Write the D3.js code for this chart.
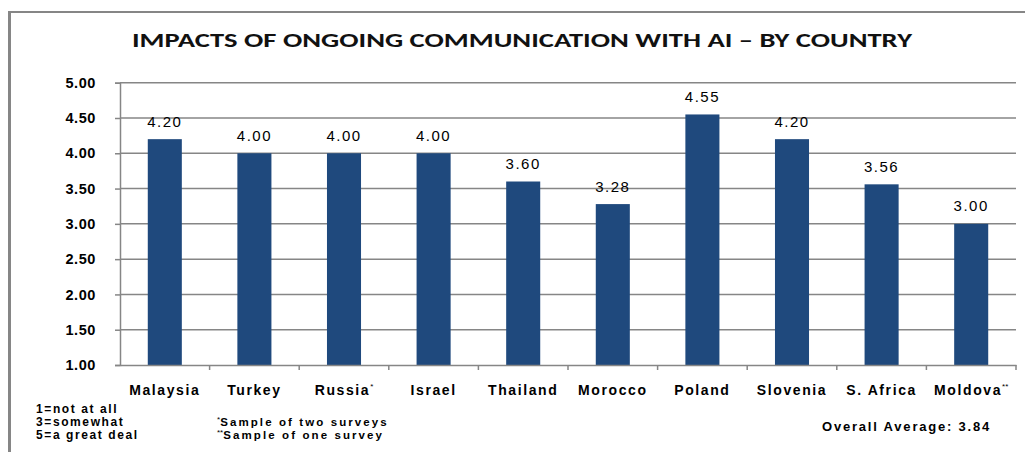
<!DOCTYPE html>
<html>
<head>
<meta charset="utf-8">
<script src="https://cdn.jsdelivr.net/npm/d3@7/dist/d3.min.js"></script>
<style>
  html, body { margin: 0; padding: 0; background: #fff; }
  svg { display: block; }
</style>
</head>
<body>
<svg id="chart" width="1025" height="459"></svg>
<script>
const categories = ["Malaysia", "Turkey", "Russia", "Israel", "Thailand", "Morocco", "Poland", "Slovenia", "S. Africa", "Moldova"];
const categoryMarks = ["", "", "*", "", "", "", "", "", "", "**"];
const values = [4.20, 4.00, 4.00, 4.00, 3.60, 3.28, 4.55, 4.20, 3.56, 3.00];
const yTicks = [1.00, 1.50, 2.00, 2.50, 3.00, 3.50, 4.00, 4.50, 5.00];
const titleText = "IMPACTS OF ONGOING COMMUNICATION WITH AI \u2013 BY COUNTRY";
const scaleNotes = ["1=not at all", "3=somewhat", "5=a great deal"];
const sampleNotes = [["*", "Sample of two surveys"], ["**", "Sample of one survey"]];
const averageNote = "Overall Average: 3.84";

const svg = d3.select("#chart");
const font = "'Liberation Sans', Arial, sans-serif";
const grey = "#868686";

// Frame (top and left)
svg.append("line").attr("x1", 9).attr("x2", 1025).attr("y1", 12).attr("y2", 12)
  .attr("stroke", grey).attr("stroke-width", 2);
svg.append("line").attr("x1", 9.5).attr("x2", 9.5).attr("y1", 11).attr("y2", 452)
  .attr("stroke", grey).attr("stroke-width", 3);

// Title
svg.append("text")
  .attr("x", 132).attr("y", 47)
  .attr("textLength", 780).attr("lengthAdjust", "spacingAndGlyphs")
  .attr("font-family", "Carlito, 'Liberation Sans Narrow', 'Open Sans', sans-serif")
  .attr("font-size", 21).attr("font-weight", 600).attr("fill", "#111")
  .text(titleText);

const x = d3.scaleBand().domain(categories).range([120, 1016]).paddingInner(0.62).paddingOuter(0.31);
const y = d3.scaleLinear().domain([1, 5]).range([365, 82.7]);

// Gridlines
svg.append("g").selectAll("line").data(yTicks.filter(t => t > 1)).join("line")
  .attr("x1", 120).attr("x2", 1016)
  .attr("y1", d => y(d)).attr("y2", d => y(d))
  .attr("stroke", grey).attr("stroke-width", 1.5);

// Y axis
const yAxis = svg.append("g").attr("transform", "translate(120,0)")
  .call(d3.axisLeft(y).tickValues(yTicks).tickFormat(d3.format(".2f")).tickSize(5).tickPadding(19));
yAxis.select(".domain").attr("stroke", grey).attr("stroke-width", 1.5);
yAxis.selectAll(".tick line").attr("stroke", grey).attr("stroke-width", 1.5);
yAxis.selectAll(".tick text").attr("font-family", font).attr("font-size", 14.5)
  .attr("font-weight", "bold").attr("fill", "#000").attr("letter-spacing", 0.6);

// Bars
svg.append("g").selectAll("rect").data(values).join("rect")
  .attr("x", (d, i) => x(categories[i]))
  .attr("width", x.bandwidth())
  .attr("y", d => y(d))
  .attr("height", d => y(1) - y(d))
  .attr("fill", "#1F497D");

// X axis
const xAxis = svg.append("g").attr("transform", "translate(0,365)")
  .call(d3.axisBottom(x).tickSize(0).tickFormat(""));
xAxis.select(".domain").attr("stroke", grey).attr("stroke-width", 1.5);
// tick marks at band boundaries
const bounds = categories.map(c => x(c) - x.step() * x.paddingInner() / 2 + x.step());
svg.append("g").selectAll("line").data(bounds).join("line")
  .attr("x1", d => d).attr("x2", d => d).attr("y1", 365).attr("y2", 370)
  .attr("stroke", grey).attr("stroke-width", 1.5);

// Category labels
const catText = svg.append("g").selectAll("text").data(categories).join("text")
  .attr("x", d => x(d) + x.bandwidth() / 2)
  .attr("y", 395)
  .attr("text-anchor", "middle")
  .attr("font-family", font).attr("font-size", 14).attr("font-weight", "bold")
  .attr("letter-spacing", 1.6).attr("fill", "#000");
catText.append("tspan").text(d => d);
catText.append("tspan").text((d, i) => categoryMarks[i])
  .attr("font-size", 8).attr("font-weight", "normal").attr("dy", -6).attr("letter-spacing", 0);

// Value labels
svg.append("g").selectAll("text").data(values).join("text")
  .attr("x", (d, i) => x(categories[i]) + x.bandwidth() / 2)
  .attr("y", d => y(d) - 12.5)
  .attr("text-anchor", "middle")
  .attr("font-family", font).attr("font-size", 15).attr("letter-spacing", 1.5)
  .attr("fill", "#000")
  .text(d => d3.format(".2f")(d));

// Notes
svg.append("g").selectAll("text").data(scaleNotes).join("text")
  .attr("x", 36).attr("y", (d, i) => 413 + i * 13)
  .attr("font-family", font).attr("font-size", 12).attr("font-weight", "bold")
  .attr("letter-spacing", 1.6).attr("fill", "#000")
  .text(d => d);

const sn = svg.append("g").selectAll("text").data(sampleNotes).join("text")
  .attr("x", 217).attr("y", (d, i) => 426 + i * 12.5)
  .attr("font-family", font).attr("font-size", 11.5).attr("font-weight", "bold")
  .attr("letter-spacing", 2.1).attr("fill", "#000");
sn.append("tspan").text(d => d[0]).attr("font-size", 8).attr("font-weight", "normal").attr("dy", -4).attr("letter-spacing", 0);
sn.append("tspan").text(d => d[1]).attr("dy", 4);

svg.append("text")
  .attr("x", 822).attr("y", 431)
  .attr("font-family", font).attr("font-size", 13).attr("font-weight", "bold")
  .attr("letter-spacing", 1.8).attr("fill", "#000")
  .text(averageNote);
</script>
</body>
</html>
